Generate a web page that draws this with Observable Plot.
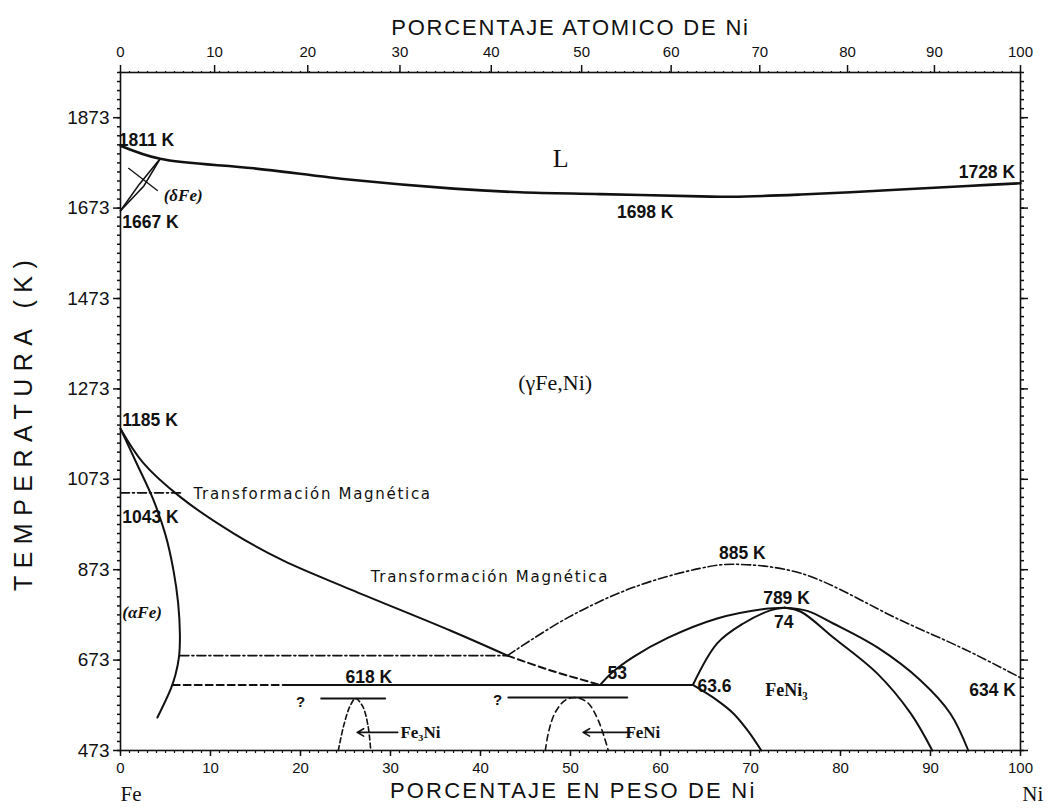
<!DOCTYPE html>
<html><head><meta charset="utf-8">
<script src="https://cdn.jsdelivr.net/npm/d3@7"></script>
<script src="https://cdn.jsdelivr.net/npm/@observablehq/plot@0.6"></script>
<style>body{margin:0;background:#fff;} svg{display:block}</style>
</head><body><div id="chart"></div><script>
// ---------- data: [wt% Ni, T (K)] ----------
const liquidus = [[0,1811],[4.4,1782],[14.8,1761],[25.9,1735],[37,1716],[44.4,1708],[53.3,1704],[64.4,1699],[68,1698],[75.6,1703],[86.7,1714],[94.1,1722],[100,1728]];
const deltaLensA = [[0,1667],[2.1,1726],[4.4,1782]];
const deltaLensB = [[0,1667],[2.6,1722],[4.4,1782]];
const deltaLeader = [[0.9,1761],[4.1,1712]];
const alphaBoundary = [[0,1185],[1.8,1108],[3.6,1030],[5,950],[5.9,870],[6.4,800],[6.6,730],[6.5,680],[6.1,640],[5.6,610],[4.1,546]];
const gammaBoundary = [[0,1185],[2.5,1110],[6.7,1033],[12.6,953],[18.1,893],[25.6,829],[36.7,738],[43,683]];
const gammaBoundaryDashed = [[43,683],[47.8,650],[51.9,626],[53.3,618]];
const magneticFe = [[0,1043],[6.7,1043]];
const magneticFlat = [[6.6,683],[43,683]];
const magneticArc = [[43,683],[49.7,767],[57,834],[64.4,876],[68,885],[75.6,865],[86.7,761],[94.1,694],[100,634]];
const eutectoidDashed = [[5.8,618],[18.6,618]];
const eutectoidSolid = [[18.6,618],[63.6,618]];
const feni3Left = [[53.3,618],[54.6,645],[57,680],[60.8,722],[66.3,765],[71.5,786],[73.8,789]];
const feni3Inner = [[63.6,618],[66.3,710],[69.2,754],[72.2,783],[73.8,789]];
const feni3RightInner = [[73.8,789],[75.6,780],[79.2,723],[84.1,643],[87.8,555],[90.2,473]];
const feni3RightOuter = [[73.8,789],[76.3,782],[79.2,754],[84.1,701],[88.9,628],[92.2,555],[94.2,473]];
const feni3Lower = [[63.6,618],[66.3,584],[68.1,555],[69.7,517],[71.2,473]];
const fe3niLine = [[22.3,588],[29.4,588]];
const fe3niDome = [[24.2,473],[24.8,528],[25.5,571],[26.1,588],[26.9,571],[27.5,528],[27.8,473]];
const feniLine = [[43.1,590],[56.3,590]];
const feniDome = [[47.2,473],[47.6,517],[48.3,557],[49.4,584],[50.6,590],[51.9,579],[53.1,539],[54.2,473]];
const pointerArrows = [[30.8,513,26.3,513],[56.7,513,51.4,513]];

// ---------- ticks ----------
const weightTicks = [0,10,20,30,40,50,60,70,80,90,100];
const atomicTicks = [0,10,20,30,40,50,60,70,80,90,100];
const tempTicks = [473,673,873,1073,1273,1473,1673,1873];
const tempMinor = d3.range(473, 1974, 20);
const weightMinor = d3.range(0, 101, 1);
const M_NI = 58.69, M_FE = 55.85;
const atomicToWeight = a => a === 0 ? 0 : a === 100 ? 100 : 100 * a * M_NI / (a * M_NI + (100 - a) * M_FE);
const atomicPos = atomicTicks.map(atomicToWeight);
const atomicLabel = new Map(atomicPos.map((p, i) => [p, String(atomicTicks[i])]));

// ---------- annotations: [text, wt% Ni, T] ----------
const boldLabelsStart = [["1811 K",-0.2,1823],["1667 K",0.2,1641],["1185 K",0.2,1203],["1043 K",0.2,988],["63.6",64.1,615]];
const boldLabelsMid = [["1698 K",58.3,1663],["885 K",69.1,909],["789 K",74,809],["74",73.7,756],["53",55.2,643],["618 K",27.6,634]];
const boldLabelsEnd = [["1728 K",99.4,1752],["634 K",99.5,606]];
const magLabels = [["Transformación Magnética",8.1,1039],["Transformación Magnética",27.8,856]];
const phaseItalic = [["(δFe)",4.8,1701],["(αFe)",0.2,778]];
const compoundLabels = [["Fe₃Ni",31.1,513],["FeNi",56.1,513]];
const questionMarks = [["?",20,579],["?",41.9,584]];

const X = d => d[0], Y = d => d[1];
const SANS = "'Liberation Sans', Arial, sans-serif";
const NARROW = "'Liberation Sans Narrow', 'Liberation Sans', Arial, sans-serif";
const SERIF = "'Liberation Serif', 'DejaVu Serif', serif";
const line = (data, o = {}) => Plot.line(data, {x: X, y: Y, curve: "catmull-rom", stroke: "#111", strokeWidth: 2, ...o});
const DASH = "7,4", DASHDOT = "9,3,2,3";

const chart = Plot.plot({
  width: 1052, height: 812,
  marginLeft: 120, marginRight: 32, marginTop: 72, marginBottom: 62,
  x: {domain: [0, 100], axis: null},
  y: {domain: [473, 1973], axis: null},
  style: {background: "#fff", color: "#111"},
  marks: [
    Plot.frame({stroke: "#111", strokeWidth: 1.6}),
    // axes
    Plot.axisY(tempTicks, {anchor: "left", tickSize: 7, tickPadding: 4, fontSize: 19, fontFamily: NARROW, tickFormat: d => String(d), strokeWidth: 1.5}),
    Plot.axisY(tempMinor, {anchor: "left", tickSize: 3, tickFormat: () => "", strokeWidth: 1.5}),
    Plot.axisY(tempTicks, {anchor: "right", tickSize: 7, tickFormat: () => "", strokeWidth: 1.5}),
    Plot.axisY(tempMinor, {anchor: "right", tickSize: 3, tickFormat: () => "", strokeWidth: 1.5}),
    Plot.axisX(weightTicks, {anchor: "bottom", tickSize: 6, tickPadding: 6, fontSize: 15, fontFamily: NARROW, tickFormat: d => String(d), strokeWidth: 1.5}),
    Plot.axisX(weightMinor, {anchor: "bottom", tickSize: 3, tickFormat: () => "", strokeWidth: 1.2}),
    Plot.axisX(atomicPos, {anchor: "top", tickSize: 8, tickPadding: 8, fontSize: 15, fontFamily: NARROW, tickFormat: d => atomicLabel.get(d), strokeWidth: 1.5}),
    Plot.axisX(weightMinor, {anchor: "top", tickSize: 2, tickFormat: () => "", strokeWidth: 1.2}),
    // titles
    Plot.text(["PORCENTAJE ATOMICO DE Ni"], {x: () => 50, frameAnchor: "top", dy: -53, fontSize: 22, fontFamily: SANS, fill: "#111"}),
    Plot.text(["PORCENTAJE EN PESO DE Ni"], {x: () => 50.3, frameAnchor: "bottom", dy: 47, fontSize: 22, fontFamily: SANS, fill: "#111"}),
    Plot.text(["TEMPERATURA (K)"], {x: () => 0, y: () => 1200, rotate: -90, dx: -97, fontSize: 25, fontFamily: SANS, fill: "#111"}),
    Plot.text(["Fe"], {x: () => 0, frameAnchor: "bottom", dy: 50, textAnchor: "start", fontSize: 21, fontFamily: SERIF, fill: "#111"}),
    Plot.text(["Ni"], {x: () => 100.2, frameAnchor: "bottom", dy: 50, textAnchor: "start", fontSize: 21, fontFamily: SERIF, fill: "#111"}),
    // curves
    line(liquidus, {strokeWidth: 2.6}),
    line(deltaLensA, {strokeWidth: 1.6, curve: "linear"}),
    line(deltaLensB, {strokeWidth: 1.6, curve: "linear"}),
    line(deltaLeader, {strokeWidth: 1.3, curve: "linear"}),
    line(alphaBoundary),
    line(gammaBoundary),
    line(gammaBoundaryDashed, {strokeDasharray: DASH}),
    line(magneticFe, {strokeWidth: 1.6, strokeDasharray: DASHDOT, curve: "linear"}),
    line(magneticFlat, {strokeWidth: 1.6, strokeDasharray: DASHDOT, curve: "linear"}),
    line(magneticArc, {strokeWidth: 1.6, strokeDasharray: DASHDOT}),
    line(eutectoidDashed, {strokeDasharray: DASH, curve: "linear"}),
    line(eutectoidSolid, {curve: "linear"}),
    line(feni3Left),
    line(feni3Inner),
    line(feni3RightInner),
    line(feni3RightOuter),
    line(feni3Lower),
    line(fe3niLine, {curve: "linear"}),
    line(fe3niDome, {strokeDasharray: "5,3", strokeWidth: 1.6}),
    line(feniLine, {curve: "linear"}),
    line(feniDome, {strokeDasharray: "6,4", strokeWidth: 1.6}),
    Plot.arrow(pointerArrows, {x1: d => d[0], y1: d => d[1], x2: d => d[2], y2: d => d[3], stroke: "#111", strokeWidth: 1.6, headLength: 7, bend: 0}),
    // labels
    Plot.text(["L"], {x: () => 48.9, y: () => 1783, fontSize: 26, fontFamily: SERIF, fill: "#111"}),
    Plot.text(["(γFe,Ni)"], {x: () => 48.3, y: () => 1287, fontSize: 22, fontFamily: SERIF, fill: "#111"}),
    Plot.text(["FeNi₃"], {x: () => 74, y: () => 606, fontSize: 18, fontWeight: "bold", fontFamily: SERIF, fill: "#111"}),
    Plot.text(boldLabelsStart, {text: d => d[0], x: d => d[1], y: d => d[2], textAnchor: "start", fontSize: 17.5, fontWeight: "bold", fontFamily: SANS, fill: "#111"}),
    Plot.text(boldLabelsMid, {text: d => d[0], x: d => d[1], y: d => d[2], fontSize: 17.5, fontWeight: "bold", fontFamily: SANS, fill: "#111"}),
    Plot.text(boldLabelsEnd, {text: d => d[0], x: d => d[1], y: d => d[2], textAnchor: "end", fontSize: 17.5, fontWeight: "bold", fontFamily: SANS, fill: "#111"}),
    Plot.text(magLabels, {text: d => d[0], x: d => d[1], y: d => d[2], textAnchor: "start", fontSize: 15, fontFamily: "'DejaVu Sans', sans-serif", fill: "#111"}),
    Plot.text(phaseItalic, {text: d => d[0], x: d => d[1], y: d => d[2], textAnchor: "start", fontSize: 17, fontStyle: "italic", fontWeight: "bold", fontFamily: SERIF, fill: "#111"}),
    Plot.text(compoundLabels, {text: d => d[0], x: d => d[1], y: d => d[2], textAnchor: "start", fontSize: 17, fontWeight: "bold", fontFamily: SERIF, fill: "#111"}),
    Plot.text(questionMarks, {text: d => d[0], x: d => d[1], y: d => d[2], fontSize: 15, fontWeight: "bold", fontFamily: SANS, fill: "#111"})
  ]
});
// letter spacing for titles and annotations (style only)
const spacing = {"PORCENTAJE ATOMICO DE Ni": 1.8, "PORCENTAJE EN PESO DE Ni": 2.2, "TEMPERATURA (K)": 7.5, "Transformación Magnética": 1.7};
chart.querySelectorAll("text").forEach(t => {
  const s = spacing[t.textContent];
  if (s != null) t.setAttribute("letter-spacing", s);
});
document.getElementById("chart").append(chart);
</script></body></html>
